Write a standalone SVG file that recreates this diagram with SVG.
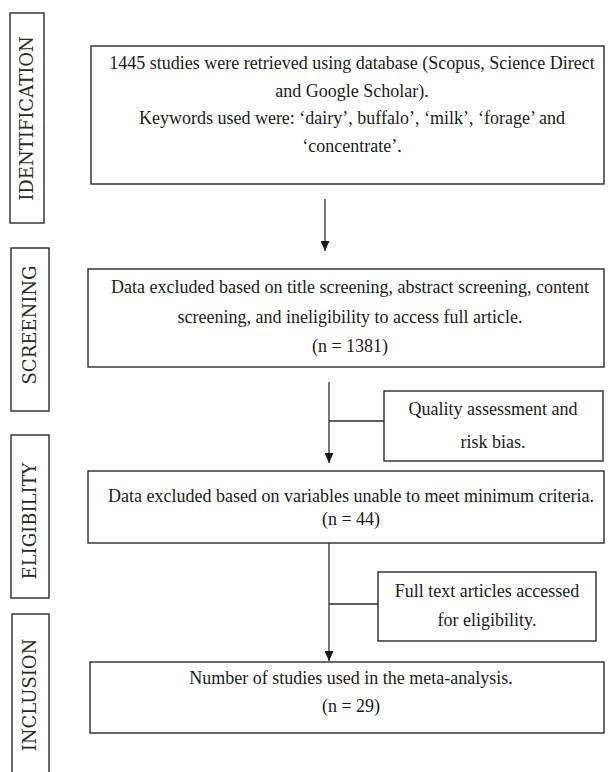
<svg xmlns="http://www.w3.org/2000/svg" width="611" height="772" viewBox="0 0 611 772">
<style>
.box{fill:#fff;stroke:#2a2a2a;stroke-width:1.4}
.t{font-family:"Liberation Serif","Times New Roman",serif;font-size:18px;fill:#1a1a1a;text-anchor:middle}
.lab{font-family:"DejaVu Serif",serif;font-size:18px;fill:#2a2a2a;text-anchor:middle}
.ln{stroke:#2a2a2a;stroke-width:1.3;fill:none}
</style>
<defs>
<marker id="ah" markerWidth="10" markerHeight="9" refX="10" refY="4.5" orient="auto" markerUnits="userSpaceOnUse" viewBox="0 0 10 9">
<path d="M0,0 L10,4.5 L0,9 Z" fill="#1a1a1a"/>
</marker>
</defs>
<rect width="611" height="772" fill="#fff"/>
<g id="stage-identification">
<rect class="box" x="10" y="13" width="34" height="210"/>
<text class="lab" transform="translate(33,118.5) rotate(-90)">IDENTIFICATION</text>
</g>
<g id="stage-screening">
<rect class="box" x="11" y="248" width="38" height="163"/>
<text class="lab" transform="translate(36,325) rotate(-90)">SCREENING</text>
</g>
<g id="stage-eligibility">
<rect class="box" x="11" y="435" width="38" height="163"/>
<text class="lab" transform="translate(36,521) rotate(-90)">ELIGIBILITY</text>
</g>
<g id="stage-inclusion">
<rect class="box" x="12" y="614" width="37" height="170"/>
<text class="lab" transform="translate(36,695) rotate(-90)">INCLUSION</text>
</g>
<g id="node-retrieved">
<rect class="box" x="91" y="46" width="513" height="138"/>
<text class="t" x="352" y="69">1445 studies were retrieved using database (Scopus, Science Direct</text>
<text class="t" x="352" y="97">and Google Scholar).</text>
<text class="t" x="352" y="124">Keywords used were: ‘dairy’, buffalo’, ‘milk’, ‘forage’ and</text>
<text class="t" x="352" y="152">‘concentrate’.</text>
</g>
<g id="node-screening">
<rect class="box" x="88" y="269" width="516" height="98"/>
<text class="t" x="350" y="293">Data excluded based on title screening, abstract screening, content</text>
<text class="t" x="350" y="323">screening, and ineligibility to access full article.</text>
<text class="t" x="350" y="352">(n = 1381)</text>
</g>
<g id="node-quality">
<rect class="box" x="384" y="391" width="219" height="70"/>
<text class="t" x="493" y="415">Quality assessment and</text>
<text class="t" x="493" y="448">risk bias.</text>
</g>
<g id="node-eligibility">
<rect class="box" x="88" y="471" width="516" height="72"/>
<text class="t" x="351" y="502">Data excluded based on variables unable to meet minimum criteria.</text>
<text class="t" x="351" y="525">(n = 44)</text>
</g>
<g id="node-fulltext">
<rect class="box" x="378" y="572" width="218" height="69"/>
<text class="t" x="487" y="597">Full text articles accessed</text>
<text class="t" x="487" y="626">for eligibility.</text>
</g>
<g id="node-inclusion">
<rect class="box" x="90" y="662" width="514" height="71"/>
<text class="t" x="351" y="684">Number of studies used in the meta-analysis.</text>
<text class="t" x="351" y="712">(n = 29)</text>
</g>
<g id="connectors">
<line class="ln" x1="325" y1="199" x2="325" y2="251" marker-end="url(#ah)"/>
<line class="ln" x1="329" y1="382" x2="329" y2="463" marker-end="url(#ah)"/>
<line class="ln" x1="329" y1="421" x2="384" y2="421"/>
<line class="ln" x1="329" y1="543" x2="329" y2="661" marker-end="url(#ah)"/>
<line class="ln" x1="329" y1="604" x2="378" y2="604"/>
</g>
</svg>
